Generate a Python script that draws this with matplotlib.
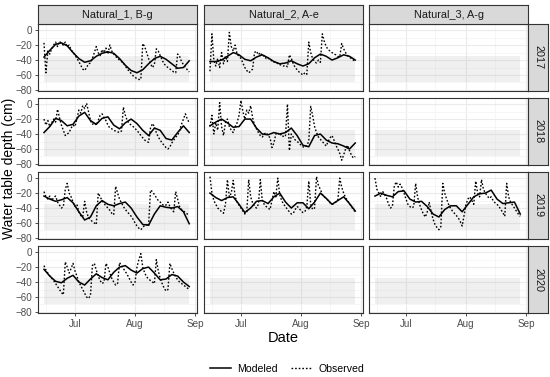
import matplotlib
matplotlib.use("Agg")
import matplotlib.pyplot as plt
import matplotlib.dates as mdates
from matplotlib.lines import Line2D
from matplotlib.ticker import MultipleLocator
import pandas as pd

plt.rcParams['font.family'] = ['Liberation Sans', 'DejaVu Sans']

sites = ["Natural_1, B-g", "Natural_2, A-e", "Natural_3, A-g"]
years = ["2017", "2018", "2019", "2020"]

# observed = daily Jun 15 - Aug 29, modeled = every 3 days over the same span
obs_dates = pd.date_range("2020-06-15", "2020-08-29", freq="D")
mod_dates = pd.date_range("2020-06-15", "2020-08-29", freq="3D")

# grey band drawn in every panel
band_dates = pd.to_datetime(["2020-06-15", "2020-08-29"])
band_depth = [-70, -35]

mod_2017_n1 = [-36, -27, -19, -17, -21, -30, -38, -43, -41, -35, -31, -29, -31,
               -38, -47, -54, -57, -53, -45, -38, -35, -39, -45, -51, -50, -41]
obs_2017_n1 = [-17, -57, -28, -32, -25, -20, -16, -22, -15, -18, -20, -16, -22,
               -20, -26, -30, -33, -38, -42, -47, -52, -54, -50, -45, -44, -38,
               -30, -22, -30, -34, -26, -30, -24, -32, -20, -28, -32, -35, -38,
               -40, -42, -44, -48, -52, -55, -58, -61, -63, -65, -66, -66, -18,
               -22, -30, -38, -45, -50, -46, -25, -28, -34, -40, -45, -48, -50,
               -52, -54, -56, -57, -32, -35, -42, -46, -50, -53, -56]

mod_2017_n2 = [-42, -42, -40, -35, -30, -33, -39, -41, -36, -33, -37, -42, -45,
               -44, -41, -45, -48, -45, -37, -32, -35, -40, -37, -33, -35, -40]
obs_2017_n2 = [-55, -5, -40, -48, -38, -50, -30, -45, -35, -42, -3, -22, -28,
               -20, -32, -35, -38, -44, -50, -54, -57, -55, -52, -30, -28, -33,
               -30, -35, -34, -38, -37, -40, -41, -43, -42, -45, -46, -47, -48,
               -47, -49, -33, -38, -45, -50, -53, -56, -58, -60, -57, -59, -16,
               -30, -38, -42, -44, -40, -43, -5, -15, -22, -26, -28, -30, -32,
               -33, -35, -36, -18, -25, -30, -34, -36, -38, -40, -42]

mod_2018_n1 = [-38, -30, -19, -22, -29, -27, -16, -11, -22, -27, -19, -17, -28,
               -33, -25, -20, -26, -35, -42, -32, -35, -46, -48, -38, -29, -38]
obs_2018_n1 = [-20, -28, -22, -30, -25, -20, -24, -7, -18, -28, -35, -42, -40,
               -38, -32, -28, -30, -20, -8, -12, -2, -6, 1, -10, -22, -27,
               -25, -28, -22, -15, -13, -18, -22, -28, -32, -33, -35, -36, -37,
               -38, -36, -4, -15, -22, -26, -28, -30, -32, -36, -38, -42, -45,
               -48, -50, -51, -32, -26, -30, -38, -44, -48, -52, -55, -58, -60,
               -57, -52, -48, -44, -42, -35, -27, -20, -13, -20, -25]

mod_2018_n2 = [-29, -24, -20, -25, -31, -30, -20, -20, -32, -40, -41, -38, -40,
               -38, -32, -42, -55, -57, -42, -40, -48, -52, -53, -56, -60, -52]
obs_2018_n2 = [-30, -15, -40, -25, -35, 2, -30, -42, -25, -20, -30, -35, -38,
               -30, -25, -15, 5, -10, -20, -8, -12, -2, -18, -28, -33, -38,
               -42, -44, -40, -38, -42, -45, -58, -52, -40, -38, -42, -40, -44,
               -42, 0, -62, -40, -44, -48, -50, -52, -55, -57, -58, -55, -50,
               -3, -15, -30, -38, -44, -47, -50, -53, -56, -50, -45, -42, -48,
               -55, -60, -66, -75, -68, -60, -55, -62, -68, -72, -70]

mod_2019_n1 = [-24, -28, -31, -29, -26, -33, -45, -56, -52, -37, -30, -35, -37,
               -34, -32, -40, -52, -62, -63, -48, -37, -39, -40, -38, -45, -61]
obs_2019_n1 = [-18, -25, -28, -24, -30, -26, -24, -32, -36, -40, -38, -15, -7,
               -20, -25, -32, -38, -35, -45, -50, -52, -31, -45, -53, -56, -58,
               -60, -62, -20, -25, -30, -34, -37, -40, -43, -47, -49, -11, -20,
               -28, -33, -38, -42, -45, -48, -51, -55, -60, -64, -67, -69, -66,
               -63, -62, -64, -16, -18, -22, -26, -30, -32, -35, -37, -36, -32,
               -38, -42, -45, -18, -28, -38, -42, -44, -46, -48, -47]

mod_2019_n2 = [-20, -26, -30, -26, -25, -35, -46, -40, -31, -30, -34, -25, -20,
               -32, -40, -33, -33, -41, -32, -20, -27, -35, -30, -25, -34, -44]
obs_2019_n2 = [2, -20, -30, -35, -40, -42, -45, -47, -35, -2, -25, -20, -3,
               -25, -32, -36, -40, -44, -48, -45, -2, -25, -33, -38, -40, -35,
               -2, -30, -35, -38, -40, -42, -30, -18, -25, 0, -22, -30, -35,
               -38, -42, -45, -48, -47, -42, -38, -40, -44, -46, -45, -38, -4,
               -35, -42, -40, 2, -10, -15, -22, -25, -27, -30, -33, -35, -34,
               -32, -30, 0, -12, -20, -26, -30, -34, -38, -42, -45]

mod_2019_n3 = [-24, -20, -23, -25, -18, -17, -28, -32, -31, -38, -48, -52, -42,
               -37, -37, -45, -35, -25, -21, -20, -16, -28, -34, -33, -32, -48]
obs_2019_n3 = [0, -15, -20, -25, -18, -22, -27, -35, -40, -38, -10, -5, -12,
               -8, -13, -20, -28, -35, -38, -40, -38, -7, -25, -35, -42, -48,
               -52, -45, -32, -45, -55, -62, -66, -69, -65, -7, -20, -28, -35,
               -40, -44, -47, -50, -53, -58, -64, -50, -35, -28, -25, -30, -35,
               -4, -20, -25, -2, -15, -20, -24, -27, -25, -30, -33, -35, -38,
               -42, -46, -51, -7, -25, -32, -36, -40, -44, -48, -51]

mod_2020_n1 = [-23, -32, -39, -41, -35, -31, -40, -44, -36, -29, -34, -37, -27,
               -20, -18, -24, -28, -22, -20, -28, -37, -36, -30, -32, -40, -46]
obs_2020_n1 = [-18, -24, -28, -32, -35, -38, -42, -46, -50, -54, -57, -13, -20,
               -28, -22, -15, -25, -32, -40, -45, -50, -55, -60, -62, -58, -18,
               -15, -24, -32, -38, -42, -40, -15, -20, -28, -35, -40, -44, -42,
               -14, -18, -22, -26, -30, -35, -40, -44, -40, -20, -10, -2, -20,
               -28, -33, -36, -38, -40, -42, -10, -25, -35, -42, -48, -52, -50,
               -15, -22, -28, -33, -37, -40, -42, -44, -46, -48, -50]

panel_data = {
    ("2017", sites[0]): (mod_2017_n1, obs_2017_n1),
    ("2017", sites[1]): (mod_2017_n2, obs_2017_n2),
    ("2018", sites[0]): (mod_2018_n1, obs_2018_n1),
    ("2018", sites[1]): (mod_2018_n2, obs_2018_n2),
    ("2019", sites[0]): (mod_2019_n1, obs_2019_n1),
    ("2019", sites[1]): (mod_2019_n2, obs_2019_n2),
    ("2019", sites[2]): (mod_2019_n3, obs_2019_n3),
    ("2020", sites[0]): (mod_2020_n1, obs_2020_n1),
}

W, H = 550, 377
col_x = [(38, 197), (204, 363), (369, 528)]
row_y = [(24, 91), (98, 165), (172, 239), (246, 313)]
strip_top = (5, 24)
strip_right = (528, 548)

fig = plt.figure(figsize=(W / 100, H / 100), dpi=100)


def px_axes(x0, y0, x1, y1):
    return fig.add_axes([x0 / W, 1 - y1 / H, (x1 - x0) / W, (y1 - y0) / H])


def strip(x0, y0, x1, y1, text, rot=0):
    s = px_axes(x0, y0, x1, y1)
    s.set_facecolor("#D9D9D9")
    s.set_xticks([])
    s.set_yticks([])
    for sp in s.spines.values():
        sp.set_color("#333333")
        sp.set_linewidth(0.8)
    s.text(0.5, 0.5, text, rotation=rot, ha="center", va="center",
           fontsize=7.8, color="#1A1A1A", transform=s.transAxes)


xlim = (pd.Timestamp("2020-06-11 22:00"), pd.Timestamp("2020-09-02"))

for i, yr in enumerate(years):
    for j, site in enumerate(sites):
        x0, x1 = col_x[j]
        y0, y1 = row_y[i]
        ax = px_axes(x0, y0, x1, y1)
        ax.set_xlim(xlim)
        ax.set_ylim(-81.4, 8.2)
        ax.yaxis.set_major_locator(MultipleLocator(20))
        ax.yaxis.set_minor_locator(MultipleLocator(10))
        ax.xaxis.set_major_locator(mdates.MonthLocator())
        ax.xaxis.set_minor_locator(mdates.MonthLocator(bymonthday=16))
        ax.xaxis.set_major_formatter(mdates.DateFormatter("%b"))
        ax.grid(True, which="major", color="#EBEBEB", lw=0.8)
        ax.grid(True, which="minor", color="#F3F3F3", lw=0.5)
        ax.set_axisbelow(True)
        ax.fill_between(band_dates, band_depth[0], band_depth[1],
                        color="#BDBDBD", alpha=0.22, lw=0, zorder=1)
        if (yr, site) in panel_data:
            mod, obs = panel_data[(yr, site)]
            ax.plot(mod_dates, mod, color="black", lw=1.1, zorder=3)
            ax.plot(obs_dates, obs, color="black", lw=1.0,
                    linestyle=(0, (1.2, 1.4)), zorder=3)
        for sp in ax.spines.values():
            sp.set_color("#333333")
            sp.set_linewidth(0.8)
        ax.tick_params(which="both", length=0, labelsize=7.1, colors="#4D4D4D")
        ax.tick_params(which="major", length=2.5, color="#333333", width=0.6)
        ax.tick_params(which="minor", length=0)
        if j != 0:
            ax.tick_params(axis="y", which="major", length=0, labelleft=False)
        if i != len(years) - 1:
            ax.tick_params(axis="x", which="major", length=0, labelbottom=False)
        else:
            ax.tick_params(axis="x", pad=2)
        ax.tick_params(axis="y", pad=1.5)
        if i == 0:
            strip(x0, strip_top[0], x1, strip_top[1], site)
    strip(strip_right[0], row_y[i][0], strip_right[1], row_y[i][1], yr, rot=270)

fig.text(9 / W, 1 - 168.5 / H, "Water table depth (cm)", rotation=90,
         ha="center", va="center", fontsize=10)
fig.text(283 / W, 1 - 338 / H, "Date", ha="center", va="center", fontsize=10.5)

handles = [Line2D([], [], color="black", lw=1.1),
           Line2D([], [], color="black", lw=1.0, linestyle=(0, (1.2, 1.4)))]
fig.legend(handles, ["Modeled", "Observed"], loc="center",
           bbox_to_anchor=(287 / W, 1 - 369 / H), ncol=2, frameon=False,
           fontsize=7.6, handlelength=2.0, columnspacing=1.2, handletextpad=0.6)

fig.savefig("out.png", dpi=100)
